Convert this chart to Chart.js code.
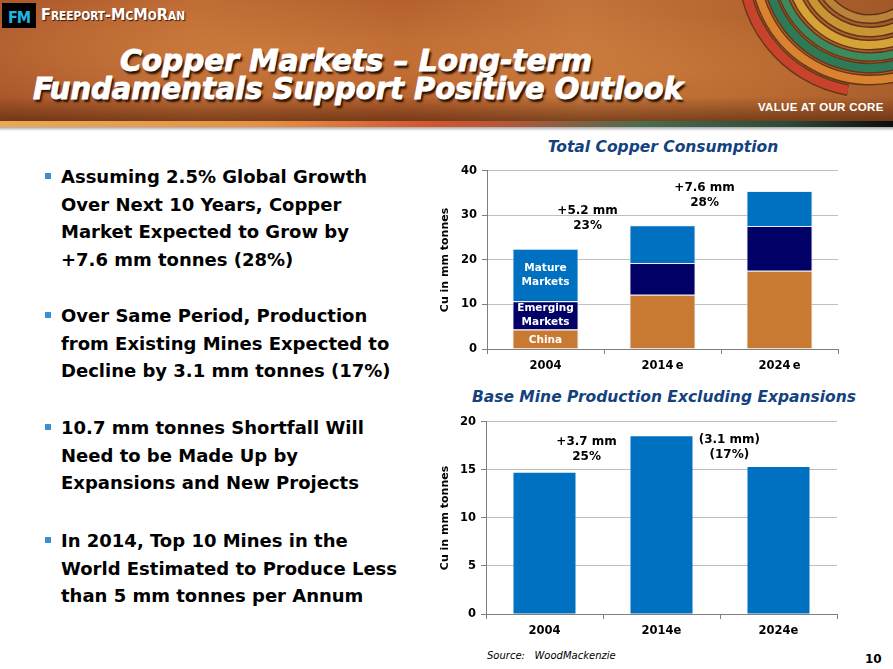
<!DOCTYPE html>
<html>
<head>
<meta charset="utf-8">
<script src="https://cdn.jsdelivr.net/npm/chart.js@4.4.1/dist/chart.umd.min.js"></script>
<style>
  body { margin: 0; width: 893px; height: 669px; overflow: hidden; background: #fff; position: relative;
         font-family: "DejaVu Sans", Verdana, sans-serif; }
  .banner { position: absolute; left: 0; top: 0; width: 893px; height: 121px; overflow: hidden;
            background:
              linear-gradient(180deg, rgba(0,0,0,0) 0%, rgba(0,0,0,0) 80%, rgba(70,30,8,0.55) 100%),
              radial-gradient(ellipse at 30% 40%, rgba(220,140,70,0.45), rgba(0,0,0,0) 60%),
              radial-gradient(ellipse at 75% 60%, rgba(210,130,60,0.35), rgba(0,0,0,0) 55%),
              linear-gradient(90deg, #a9552a 0%, #bd6a34 22%, #b15c2c 45%, #c2733b 65%, #b4652f 85%, #a2582a 100%); }
  .strip { position: absolute; left: 0; top: 121px; width: 893px; height: 6px;
           background: linear-gradient(90deg, #eaa957 0%, #e58f45 30%, #d25530 48%, #b0583a 58%, #4a6c4e 72%, #2c4a3a 88%, #0d0d0d 100%); }
  .shadow { position: absolute; left: 0; top: 127px; width: 893px; height: 4px;
            background: linear-gradient(180deg, #a8a8a8, #ffffff); }
  .logo { position: absolute; left: 2px; top: 3px; width: 34px; height: 25px; background: #000;
          color: #22b4e2; font: bold 16px "DejaVu Sans Condensed", "DejaVu Sans", sans-serif;
          line-height: 25px; text-align: center; letter-spacing: -1px; padding-top: 2px; box-sizing: border-box; }
  .company { position: absolute; left: 41px; top: 5px; color: #fff; font: bold 16.5px "DejaVu Sans Condensed", "Liberation Sans", sans-serif;
             font-variant: small-caps; white-space: nowrap; transform-origin: 0 0; text-shadow: 1px 1px 1px #3a1a08; }
  .headline { position: absolute; color: #fff; white-space: nowrap; transform-origin: 0 0;
              font: italic bold 31px "DejaVu Sans Condensed", "DejaVu Sans", sans-serif;
              line-height: 31px; -webkit-text-stroke: 0.9px #fff; text-shadow: 2px 3px 2px #2a1204; }
  .motto { position: absolute; left: 758px; top: 101px; color: #fff; font: bold 11.5px "Liberation Sans", Arial, sans-serif;
           letter-spacing: 0.3px; }
  .rings { position: absolute; left: 700px; top: 0; width: 193px; height: 121px; }
  .bullet { position: absolute; left: 61px; white-space: nowrap; font-weight: bold; font-size: 18px; line-height: 27.5px; color: #000; }
  .bullet::before { content: ""; position: absolute; left: -16px; top: 10px; width: 6px; height: 6px; background: #3a8fd2; }
  .ctitle { position: absolute; width: 420px; text-align: center; color: #14427e;
            font: italic bold 15.5px "DejaVu Sans", Verdana, sans-serif; }
  .source { position: absolute; left: 487px; top: 650px; font: italic 10px "DejaVu Sans", Verdana, sans-serif; white-space: pre; }
  .page { position: absolute; left: 865px; top: 652px; font: bold 12px "DejaVu Sans", Verdana, sans-serif; }
  canvas { position: absolute; }
</style>
</head>
<body>
<div class="banner">
  <svg class="rings" id="rings" width="193" height="121"></svg>
</div>
<div class="strip"></div>
<div class="shadow"></div>
<div class="logo">FM</div>
<div class="company" data-w="144">Freeport-McMoRan</div>
<div class="headline" data-w="472" style="left:120px; top:45px">Copper Markets – Long-term</div>
<div class="headline" data-w="650" style="left:33px; top:73px">Fundamentals Support Positive Outlook</div>
<div class="motto">VALUE AT OUR CORE</div>

<div class="bullet" style="top:163px">Assuming 2.5% Global Growth<br>Over Next 10 Years, Copper<br>Market Expected to Grow by<br>+7.6 mm tonnes (28%)</div>
<div class="bullet" style="top:302px">Over Same Period, Production<br>from Existing Mines Expected to<br>Decline by 3.1 mm tonnes (17%)</div>
<div class="bullet" style="top:414px">10.7 mm tonnes Shortfall Will<br>Need to be Made Up by<br>Expansions and New Projects</div>
<div class="bullet" style="top:527px">In 2014, Top 10 Mines in the<br>World Estimated to Produce Less<br>than 5 mm tonnes per Annum</div>

<div class="ctitle" style="left:453px; top:138px">Total Copper Consumption</div>
<canvas id="consumption" width="415" height="216" style="left:430px; top:159px; width:415px; height:216px"></canvas>

<div class="ctitle" style="left:454px; top:388px">Base Mine Production Excluding Expansions</div>
<canvas id="production" width="414" height="230" style="left:430px; top:410px; width:414px; height:230px"></canvas>

<div class="source">Source:   WoodMackenzie</div>
<div class="page">10</div>

<script>
// chart data
const years = ['2004', '2014\u2009e', '2024\u2009e'];
const chinaUse = [4.4, 12.2, 17.6];
const emergingUse = [6.3, 7.1, 10.0];
const matureUse = [11.8, 8.5, 7.9];

const baseYears = ['2004', '2014e', '2024e'];
const baseProduction = [14.7, 18.5, 15.3];

const consumptionNotes = [['+5.2 mm', '23%'], ['+7.6 mm', '28%']];
const productionNotes = [['+3.7 mm', '25%'], ['(3.1 mm)', '(17%)']];

const FONT = '"DejaVu Sans", Verdana, sans-serif';
Chart.defaults.font.family = FONT;
Chart.defaults.font.weight = 'bold';
Chart.defaults.color = '#000';

// squeeze banner text to the width it has on the slide
document.querySelectorAll('[data-w]').forEach(el => {
  const w = el.getBoundingClientRect().width;
  el.style.transform = `scaleX(${el.dataset.w / w})`;
});

// decorative rings in the banner
const svg = document.getElementById('rings');
const cx = 170, cy = -35;
const rings = [
  [127, 100, 185, '#c9432c', 9],
  [115, 60, 185, '#d9822f', 8],
  [103, 35, 180, '#2f7a56', 8],
  [92, 25, 175, '#3d8a5e', 7],
  [80, 15, 170, '#d8a336', 8],
  [67, 10, 165, '#c99434', 8],
  [54, 5, 160, '#b9843a', 7]
];
rings.forEach(([r, a1, a2, color, w]) => {
  const p = a => [cx + r * Math.cos(a * Math.PI / 180), cy + r * Math.sin(a * Math.PI / 180)];
  const [x1, y1] = p(a1), [x2, y2] = p(a2);
  const d = `M${x1} ${y1} A${r} ${r} 0 0 1 ${x2} ${y2}`;
  svg.insertAdjacentHTML('beforeend',
    `<path d="${d}" fill="none" stroke="rgba(40,18,5,0.55)" stroke-width="${w + 3}"/>` +
    `<path d="${d}" fill="none" stroke="${color}" stroke-width="${w}"/>`);
});

// text notes placed in data space (category index, value)
const notesPlugin = {
  id: 'notes',
  afterDatasetsDraw(chart, args, opts) {
    const { ctx, scales: { x, y } } = chart;
    ctx.save();
    ctx.font = 'bold 12px ' + FONT;
    ctx.fillStyle = '#000';
    ctx.textAlign = 'center';
    ctx.textBaseline = 'middle';
    opts.spots.forEach((spot, i) => {
      const px = x.getPixelForValue(spot[0]);
      const py = y.getPixelForValue(spot[1]);
      opts.texts[i].forEach((t, k) => ctx.fillText(t, px, py + k * 15));
    });
    ctx.restore();
  }
};

// series names written inside the first stacked bar
const segmentLabels = {
  id: 'segmentLabels',
  afterDatasetsDraw(chart) {
    const ctx = chart.ctx;
    ctx.save();
    ctx.font = 'bold 10.5px ' + FONT;
    ctx.fillStyle = '#fff';
    ctx.textAlign = 'center';
    ctx.textBaseline = 'middle';
    chart.data.datasets.forEach((ds, i) => {
      const bar = chart.getDatasetMeta(i).data[0];
      const mid = (bar.y + bar.base) / 2 + (i === 0 ? 1.5 : 0);
      const lines = ds.label.split(' ');
      lines.forEach((t, k) => ctx.fillText(t, bar.x, mid + (k - (lines.length - 1) / 2) * 13.5));
    });
    ctx.restore();
  }
};

function axes(max, step, yWidth) {
  return {
    x: {
      stacked: true,
      afterFit: s => { s.height = 26; },
      grid: { display: true, drawOnChartArea: false, offset: true, tickLength: 5, tickColor: '#7f7f7f' },
      border: { color: '#7f7f7f' },
      ticks: { padding: 5, font: { size: 11.5, weight: 'bold' }, color: '#000' }
    },
    y: {
      stacked: true,
      min: 0, max: max,
      afterFit: s => { s.width = yWidth; },
      ticks: { stepSize: step, padding: 5, font: { size: 11.5, weight: 'bold' }, color: '#000' },
      grid: { color: '#bfbfbf', tickLength: 5, tickColor: '#7f7f7f' },
      border: { color: '#7f7f7f' },
      title: { display: true, text: 'Cu in mm tonnes', padding: { top: 9, bottom: 0 },
               font: { size: 11, weight: 'bold' }, color: '#000' }
    }
  };
}

new Chart(document.getElementById('consumption'), {
  type: 'bar',
  data: {
    labels: years,
    datasets: [
      { label: 'China', data: chinaUse, backgroundColor: '#c87a33' },
      { label: 'Emerging Markets', data: emergingUse, backgroundColor: '#000066' },
      { label: 'Mature Markets', data: matureUse, backgroundColor: '#0070c0' }
    ]
  },
  options: {
    responsive: false,
    animation: false,
    layout: { padding: { top: 10, right: 7, left: 0, bottom: 0 } },
    datasets: { bar: { categoryPercentage: 1, barPercentage: 0.565,
                       borderWidth: 1, borderColor: 'rgba(235,235,245,0.9)' } },
    scales: axes(40, 10, 57),
    plugins: {
      legend: { display: false },
      tooltip: { enabled: false },
      notes: { spots: [[0.36, 31.1], [1.36, 36.2]], texts: consumptionNotes }
    }
  },
  plugins: [notesPlugin, segmentLabels]
});

new Chart(document.getElementById('production'), {
  type: 'bar',
  data: {
    labels: baseYears,
    datasets: [
      { label: 'Base Mine Production', data: baseProduction, backgroundColor: '#0070c0' }
    ]
  },
  options: {
    responsive: false,
    animation: false,
    layout: { padding: { top: 10, right: 7, left: 0, bottom: 0 } },
    datasets: { bar: { categoryPercentage: 1, barPercentage: 0.53 } },
    scales: axes(20, 5, 56),
    plugins: {
      legend: { display: false },
      tooltip: { enabled: false },
      notes: { spots: [[0.36, 17.9], [1.58, 18.1]], texts: productionNotes }
    }
  },
  plugins: [notesPlugin]
});
</script>
</body>
</html>
